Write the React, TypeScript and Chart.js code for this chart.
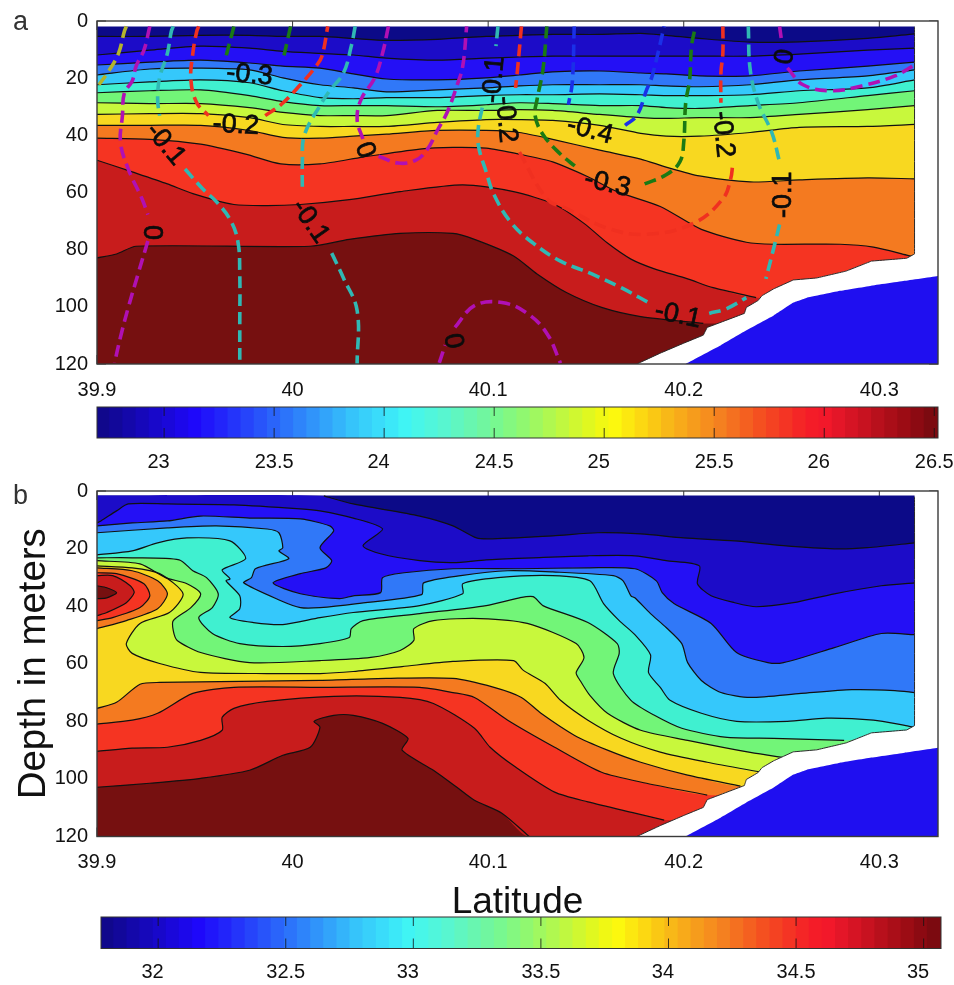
import React, { useEffect, useRef } from "react";
import { Chart, registerables } from "chart.js";

Chart.register(...registerables);

// ---------- axes ----------
const latTicks = [39.9, 40, 40.1, 40.2, 40.3];
const tempBarTicks = [23, 23.5, 24, 24.5, 25, 25.5, 26, 26.5];
const saltBarTicks = [32, 32.5, 33, 33.5, 34, 34.5, 35];

// ---------- band colours, shallow to deep ----------
const bandColors = ["#0c0a88", "#1c0cc8", "#2410f5", "#3078f8", "#35c8fb", "#40f0d0", "#72f578", "#c8f83c", "#f8d820", "#f47a20", "#f53422", "#c81c1c", "#761010"];
const bathyColor = "#1f0ff0";

// ---------- coast (shared by both panels) ----------
const coastLat = [40.318, 40.318, 40.314, 40.296, 40.283, 40.268, 40.256, 40.246, 40.24, 40.238, 40.232, 40.231, 40.212, 40.21, 40.2, 40.188, 40.176];
const coastDepth = [2, 81.5, 83, 84, 87.5, 89.9, 90.6, 93.7, 96.1, 97.8, 100.2, 102.3, 107.2, 109.9, 112.7, 116.2, 120];
const bathyLat = [40.33, 40.313, 40.296, 40.28, 40.263, 40.256, 40.246, 40.232, 40.219, 40.202, 40.201, 40.33];
const bathyDepth = [89.2, 90.9, 92.6, 94.4, 96.8, 98.5, 103, 108.2, 113.4, 119.6, 120, 120];

// ---------- panel a: temperature contours ----------
const tempLat = [39.9, 39.927, 39.953, 39.978, 39.995, 40.014, 40.031, 40.048, 40.074, 40.099, 40.116, 40.133, 40.157, 40.178, 40.191, 40.208, 40.234, 40.259, 40.294, 40.318];
const tempL1 = [5.4, 5.4, 5.0, 5.0, 5.4, 5.4, 6.1, 6.8, 6.4, 5.4, 5.0, 4.7, 4.7, 4.3, 5.0, 6.1, 7.4, 7.3, 6.1, 4.5];
const tempL2 = [11.9, 10.2, 8.8, 9.5, 10.6, 11.3, 11.9, 13, 13.7, 13, 12.6, 12.3, 12.3, 12.3, 12.3, 12.3, 12.3, 11.6, 10.2, 9.5];
const tempL3 = [15.4, 14.4, 13.7, 14.7, 15.8, 16.5, 18.5, 20.3, 20.6, 19.9, 18.9, 17.8, 17.5, 18.2, 18.5, 19.2, 19.2, 17.5, 15.8, 14.4];
const tempL4 = [18.9, 16.8, 16.5, 17.1, 19.9, 22.3, 23.4, 24.8, 24.1, 23.4, 22.7, 22.3, 22.3, 22.3, 22.7, 23, 22.3, 20.6, 19.2, 17.1];
const tempL5 = [22.3, 21.3, 20.6, 21.6, 24.4, 26.8, 27.2, 26.8, 26.8, 26.1, 25.8, 25.8, 25.5, 25.8, 26.1, 26.1, 25.8, 24.4, 23.4, 20.6];
const tempL6 = [25.1, 24.4, 24.1, 26.1, 28.2, 29.6, 29.6, 29.6, 30, 29.3, 28.6, 28.9, 29.6, 29.6, 30.3, 30.6, 29.6, 28.6, 26.1, 24.4];
const tempL7 = [28.6, 28.9, 28.9, 30.3, 32, 33.1, 33.1, 33.1, 31.3, 31.3, 31, 31.3, 32.7, 33.8, 34.1, 33.8, 33.8, 32.7, 31, 29.6];
const tempL8 = [32.7, 32.4, 32.4, 33.8, 36.2, 36.9, 36.9, 36.9, 35.5, 34.5, 34.5, 34.8, 36.5, 39.3, 40.3, 40.3, 39, 37.2, 36.9, 36.2];
const tempL9 = [36.5, 36.5, 36.5, 38.3, 40.7, 41, 40.3, 39.6, 38.3, 38.3, 39, 41.4, 45.2, 48.3, 51.1, 54.2, 56.3, 55.6, 54.9, 55.2];
const tempL10Lat = [39.9, 39.927, 39.953, 39.976, 39.994, 40.014, 40.036, 40.065, 40.082, 40.099, 40.116, 40.133, 40.151, 40.166, 40.188, 40.209, 40.232, 40.246, 40.28, 40.297, 40.314, 40.318];
const tempL10 = [41, 41.4, 43.1, 46.6, 50, 50, 47.6, 44.8, 44.2, 44.5, 46.6, 49.3, 54.5, 59.7, 64.9, 72.9, 77.4, 78.1, 78.1, 79.1, 81.9, 82.6];
const tempL11Lat = [39.9, 39.918, 39.936, 39.949, 39.97, 39.987, 40.004, 40.029, 40.055, 40.087, 40.113, 40.134, 40.149, 40.161, 40.173, 40.185, 40.202, 40.215, 40.237];
const tempL11 = [48.7, 52.8, 57, 60.4, 64.2, 64.6, 64.2, 62.5, 59.7, 57.3, 59.7, 64.2, 70.8, 77.7, 83.3, 86.7, 90.2, 93.3, 96.8];
const tempL12Lat = [39.9, 39.91, 39.92, 40.009, 40.029, 40.055, 40.082, 40.093, 40.113, 40.125, 40.14, 40.158, 40.178, 40.21];
const tempL12 = [82.9, 81.5, 78.8, 78.8, 76.4, 74.3, 74.3, 76.4, 82.2, 88.5, 95, 100.2, 103.4, 105.8];

// ---------- panel a: dashed velocity contours ----------
const oliveLine = [[39.915, 1.9], [39.914, 3.6], [39.911, 11.3], [39.906, 17.5], [39.901, 22.3]];
const zeroA1 = [[39.927, 1.9], [39.924, 10.2], [39.92, 15.8], [39.918, 21], [39.914, 25.1], [39.913, 33.1], [39.912, 42.4], [39.916, 51.8], [39.923, 62.2], [39.926, 67.7]];
const zeroA2 = [[39.926, 77], [39.921, 88.5], [39.916, 100.2], [39.912, 110.6], [39.909, 119.6]];
const zeroB1 = [[40.049, 1.9], [40.046, 11.3], [40.042, 19.9], [40.035, 27.5], [40.033, 34.5], [40.036, 41.4]];
const zeroB2 = [[40.044, 47.3], [40.054, 49.7], [40.063, 48.7], [40.069, 44.8], [40.074, 38.3], [40.079, 32], [40.084, 22.7], [40.087, 15.8], [40.089, 1.9]];
const zeroC1 = [[40.249, 1.9], [40.25, 6.8]];
const zeroC2 = [[40.253, 16.4], [40.261, 22.3], [40.275, 24.4], [40.291, 22.7], [40.308, 19.2], [40.318, 15.4]];
const zeroD1 = [[40.075, 119.6], [40.078, 113.4]];
const zeroD2 = [[40.083, 107.2], [40.093, 99.6], [40.107, 98.5], [40.12, 102.3], [40.13, 109.3], [40.137, 119.7]];
const tenthA1 = [[39.939, 1.9], [39.938, 3.6], [39.936, 11.3], [39.932, 19.9], [39.931, 27.5], [39.932, 33.1]];
const tenthA2 = [[39.945, 51.8], [39.954, 58.7], [39.961, 63.2], [39.968, 69.4], [39.972, 77], [39.973, 88.5], [39.973, 105.8], [39.973, 120]];
const tenthB1 = [[40.032, 1.9], [40.03, 8.8], [40.026, 18.2], [40.019, 24.4], [40.014, 29.6], [40.006, 40], [40.005, 49.3], [40.005, 59.7]];
const tenthB2 = [[40.02, 81.2], [40.026, 89.9], [40.033, 101.3], [40.033, 120]];
const tenthC1 = [[40.105, 1.9], [40.104, 8.8]];
const tenthC2 = [[40.097, 30.3], [40.095, 37.2], [40.095, 43.5], [40.099, 52.8], [40.103, 60.8], [40.112, 70.8], [40.123, 77.7], [40.137, 84], [40.153, 88.5], [40.168, 93.3], [40.182, 98.5]];
const tenthC3 = [[40.213, 102.3], [40.222, 100.6], [40.232, 96.8]];
const tenthD1 = [[40.233, 1.9], [40.234, 17.1], [40.238, 28.6], [40.245, 39], [40.249, 49.3]];
const tenthD2 = [[40.249, 71.2], [40.246, 79.5], [40.242, 90.2]];
const fifthA1 = [[39.952, 1.9], [39.951, 3.6], [39.949, 11.3], [39.948, 20.6], [39.951, 28.6], [39.957, 33.1]];
const fifthA2 = [[39.986, 33.1], [39.994, 29.3], [40.004, 22.3], [40.012, 15.8], [40.015, 12.3], [40.018, 1.9]];
const fifthB1 = [[40.117, 1.9], [40.115, 17.1], [40.114, 23.4]];
const fifthB2 = [[40.116, 45.9], [40.13, 62.2], [40.14, 65.6], [40.161, 72.5], [40.181, 74.6], [40.205, 70.8], [40.22, 62.2], [40.224, 55.2], [40.225, 50.4]];
const fifthB3 = [[40.22, 1.9], [40.22, 11.3], [40.219, 18.2], [40.219, 28.6]];
const thirdA = [[39.97, 1.9], [39.966, 12.3]];
const thirdB = [[39.999, 1.9], [39.995, 14]];
const thirdC1 = [[40.13, 1.9], [40.128, 17.1], [40.125, 27.5], [40.124, 33.1], [40.128, 39.7], [40.137, 46.6], [40.145, 51.1]];
const thirdC2 = [[40.18, 57], [40.191, 53.8], [40.198, 49.3], [40.2, 42.4], [40.201, 28.6], [40.203, 20.6], [40.204, 8.8], [40.206, 1.9]];
const fourthA = [[40.144, 1.9], [40.143, 21.6], [40.141, 29.3]];
const fourthB = [[40.17, 36.5], [40.176, 33.1], [40.181, 24.1], [40.184, 18.9], [40.19, 1.9]];

const dashColors = { olive: "#b4b42c", zero: "#b010b4", tenth: "#30b8b4", fifth: "#f03020", third: "#1a7a14", fourth: "#1a30e8" };

// label text, latitude, depth, rotation in degrees
const contourLabels: [string, number, number, number][] = [
  ["-0.3", 39.978, 18.9, 5],
  ["-0.2", 39.971, 36.5, 3],
  ["-0.1", 39.935, 43.1, 50],
  ["0", 39.928, 74, 90],
  ["-0.1", 40.009, 70.1, 55],
  ["0", 40.037, 45.2, 70],
  ["0", 40.082, 112, 80],
  ["-0.1", 40.103, 20.6, -85],
  ["-0.2", 40.109, 34.5, 85],
  ["-0.4", 40.152, 38.3, 15],
  ["-0.3", 40.161, 57, 13],
  ["-0.2", 40.22, 39.7, 85],
  ["0", 40.25, 12.3, 100],
  ["-0.1", 40.251, 60.8, -90],
  ["-0.1", 40.197, 103, 12],
];

// ---------- panel b: salinity contours ----------
const saltS1Lat = [40.016, 40.031, 40.065, 40.082, 40.094, 40.102, 40.133, 40.156, 40.178, 40.2, 40.226, 40.251, 40.277, 40.294, 40.318];
const saltS1 = [1.7, 4.5, 8.7, 12.1, 16.3, 16.6, 15.6, 14.5, 14.9, 16.3, 17.3, 19, 20.1, 19.7, 18];
const saltS2Lat = [39.9, 39.902, 39.91, 39.916, 39.936, 39.97, 40.004, 40.014, 40.031, 40.046, 40.036, 40.045, 40.065, 40.082, 40.099, 40.123, 40.151, 40.175, 40.191, 40.208, 40.207, 40.214, 40.226, 40.237, 40.256, 40.277, 40.301, 40.318];
const saltS2 = [11.1, 10.4, 6.9, 4.5, 4.5, 4.8, 6.2, 6.9, 9.4, 13.2, 19, 21.8, 24.2, 24.9, 23.9, 23.2, 22.5, 22.5, 24.2, 26, 32.2, 36.4, 38.8, 40.2, 38.8, 35.7, 32.9, 31.9];
const saltS3Lat = [39.9, 39.918, 39.936, 39.953, 39.978, 40.004, 40.019, 40.021, 40.014, 40.02, 40.017, 40.004, 39.99, 40.004, 40.024, 40.031, 40.045, 40.046, 40.057, 40.082, 40.116, 40.151, 40.175, 40.186, 40.189, 40.195, 40.214, 40.227, 40.243, 40.251, 40.277, 40.301, 40.318];
const saltS3 = [12.1, 11.1, 10.4, 8.7, 9.4, 9.7, 12.1, 13.9, 19.7, 24.2, 26.7, 28.7, 31.9, 35.7, 37.4, 36.4, 35.3, 30.1, 28.4, 27, 27, 26.7, 27, 31.2, 35.3, 39.1, 46, 56.1, 59.6, 59.6, 54.4, 49.5, 49.9];
const saltS4Lat = [39.9, 39.936, 39.961, 39.987, 39.993, 39.995, 39.993, 39.998, 39.981, 39.979, 39.975, 39.994, 40.004, 40.014, 40.033, 40.066, 40.067, 40.086, 40.11, 40.133, 40.164, 40.169, 40.173, 40.175, 40.183, 40.191, 40.199, 40.202, 40.209, 40.219, 40.234, 40.26, 40.286, 40.308, 40.318];
const saltS4 = [14.5, 12.8, 12.1, 13.2, 14.5, 19.7, 20.8, 23.5, 27, 30.1, 31.9, 38.1, 40.5, 40.5, 39.1, 36, 31.9, 29.4, 27.7, 28.1, 29.4, 31.2, 36.4, 37.1, 42.6, 47.4, 53, 59.6, 65.8, 70, 71.7, 70.3, 69, 69.3, 70];
const saltS5Lat = [39.9, 39.918, 39.931, 39.946, 39.968, 39.976, 39.964, 39.968, 39.966, 39.973, 39.973, 39.968, 39.98, 39.995, 40.014, 40.031, 40.065, 40.087, 40.087, 40.105, 40.133, 40.152, 40.159, 40.167, 40.175, 40.183, 40.182, 40.188, 40.193, 40.209, 40.227, 40.253, 40.273, 40.297, 40.313, 40.318];
const saltS5 = [22.2, 20.8, 18, 16.3, 17.3, 23.5, 27.4, 30.5, 31.2, 36.4, 40.9, 44, 45.7, 46.4, 44, 42.2, 39.8, 35.7, 32.2, 30.1, 29.4, 31.2, 39.1, 45, 49.9, 56.9, 63.1, 68.2, 72.7, 77.2, 80, 80, 78.9, 79.6, 81.4, 82.1];
const saltS6Lat = [39.9, 39.918, 39.942, 39.949, 39.956, 39.962, 39.959, 39.952, 39.959, 39.973, 39.995, 40.014, 40.029, 40.03, 40.036, 40.065, 40.099, 40.116, 40.123, 40.128, 40.151, 40.166, 40.167, 40.164, 40.173, 40.185, 40.199, 40.221, 40.246, 40.282];
const saltS6 = [23.2, 23.2, 23.9, 27.7, 30.1, 35.7, 40.5, 44, 49.5, 53, 54, 53, 50.9, 47.8, 45, 42.6, 39.8, 37.1, 36.7, 39.8, 45.7, 53, 56.4, 63.4, 72.7, 77.9, 82.4, 85.5, 85.9, 86.6];
const saltS7Lat = [39.9, 39.922, 39.935, 39.946, 39.953, 39.948, 39.939, 39.939, 39.941, 39.953, 39.978, 40.014, 40.04, 40.055, 40.062, 40.062, 40.072, 40.096, 40.12, 40.145, 40.149, 40.145, 40.147, 40.152, 40.161, 40.178, 40.202, 40.234, 40.253];
const saltS7 = [24.2, 25.3, 30.1, 32.2, 35.7, 40.5, 45, 48.5, 51.9, 56.1, 59.6, 58.9, 57.8, 55.4, 51.9, 47.8, 45, 44.3, 46, 53, 57.8, 63.1, 65.8, 71, 77.2, 83.1, 86.6, 90.8, 92.8];
const saltS8Lat = [39.9, 39.918, 39.932, 39.944, 39.937, 39.922, 39.915, 39.918, 39.932, 39.953, 39.987, 40.014, 40.031, 40.056, 40.082, 40.113, 40.118, 40.129, 40.137, 40.151, 40.168, 40.188, 40.212, 40.24];
const saltS8 = [26, 26.7, 28.7, 35.7, 42.2, 46, 53, 56.4, 59.9, 63, 63.4, 63.4, 62.7, 61, 59.2, 58.9, 62.3, 66.8, 72.7, 79.6, 85.9, 90.7, 94.2, 97.7];
const saltS9Lat = [39.9, 39.91, 39.922, 39.932, 40.014, 40.048, 40.082, 40.103, 40.117, 40.127, 40.144, 40.161, 40.178, 40.202, 40.229];
const saltS9 = [75.5, 73.4, 67.1, 66.5, 65.8, 65.1, 65.1, 68.2, 71.7, 77.2, 84.8, 90, 94.2, 98.7, 102.5];
const saltS10Lat = [39.9, 39.918, 39.931, 39.949, 39.97, 40.014, 40.065, 40.082, 40.093, 40.11, 40.134, 40.158, 40.181, 40.212];
const saltS10 = [81, 79.6, 77.2, 70.3, 68.2, 68.2, 68.2, 70, 71.7, 79.6, 89, 97.7, 101.5, 105.6];
const saltS11Lat = [39.9, 39.918, 39.936, 39.953, 39.964, 39.964, 39.97, 39.987, 40.021, 40.055, 40.072, 40.093, 40.101, 40.114, 40.134, 40.151, 40.175, 40.19];
const saltS11 = [90.4, 89.3, 89, 86.6, 83.1, 78.6, 75.5, 73.1, 71.3, 71.7, 73.8, 82.4, 89, 95.9, 104.6, 108, 111.9, 114.3];
const saltS12Lat = [39.9, 39.927, 39.953, 39.978, 39.995, 40.009, 40.014, 40.011, 40.021, 40.031, 40.046, 40.059, 40.056, 40.072, 40.084, 40.093, 40.107, 40.121];
const saltS12 = [102.9, 101.5, 99.8, 97, 91.8, 89, 82.1, 80, 77.9, 77.9, 80.7, 85.9, 90, 97, 102.9, 107.4, 111.9, 120];
// the high-salinity tongue at the left edge
const tongue9Lat = [39.9, 39.918, 39.931, 39.936, 39.931, 39.915, 39.9];
const tongue9 = [26.7, 27.7, 31.2, 35.7, 40.9, 45, 47.8];
const tongue10Lat = [39.9, 39.91, 39.924, 39.927, 39.922, 39.908, 39.9];
const tongue10 = [28.4, 28.7, 32.2, 36.4, 40.5, 44, 45];
const tongue11Lat = [39.9, 39.908, 39.917, 39.919, 39.915, 39.905, 39.9];
const tongue11 = [29.4, 29.4, 32.9, 35.3, 38.8, 42.2, 43.3];
const tongue12Lat = [39.9, 39.905, 39.91, 39.905, 39.9];
const tongue12 = [32.9, 33.6, 35.3, 37.1, 37.4];

// ---------- colour bars ----------
const tempBarLevels = [22.725, 22.784, 22.844, 22.904, 22.964, 23.023, 23.083, 23.143, 23.202, 23.262, 23.322, 23.381, 23.441, 23.501, 23.561, 23.62, 23.68, 23.74, 23.799, 23.859, 23.919, 23.978, 24.038, 24.098, 24.158, 24.217, 24.277, 24.337, 24.396, 24.456, 24.516, 24.575, 24.635, 24.695, 24.755, 24.814, 24.874, 24.934, 24.993, 25.053, 25.113, 25.172, 25.232, 25.292, 25.352, 25.411, 25.471, 25.531, 25.59, 25.65, 25.71, 25.769, 25.829, 25.889, 25.949, 26.008, 26.068, 26.128, 26.187, 26.247, 26.307, 26.366, 26.426, 26.486];
const saltBarLevels = [31.802, 31.853, 31.905, 31.956, 32.008, 32.059, 32.11, 32.162, 32.213, 32.265, 32.316, 32.368, 32.419, 32.47, 32.522, 32.573, 32.625, 32.676, 32.728, 32.779, 32.83, 32.882, 32.933, 32.985, 33.036, 33.088, 33.139, 33.19, 33.242, 33.293, 33.345, 33.396, 33.448, 33.499, 33.55, 33.602, 33.653, 33.705, 33.756, 33.808, 33.859, 33.91, 33.962, 34.013, 34.065, 34.116, 34.168, 34.219, 34.27, 34.322, 34.373, 34.425, 34.476, 34.528, 34.579, 34.63, 34.682, 34.733, 34.785, 34.836, 34.888, 34.939, 34.991, 35.042];
const jetCells = ["#10088c", "#12089a", "#1408aa", "#1608ba", "#1808ca", "#1a08da", "#1c08ea", "#1e08fa", "#2016fa", "#2224fa", "#2434fa", "#2644fa", "#2854fa", "#2a64fa", "#2c74fa", "#2e84fa", "#3094fa", "#32a4fa", "#34b4fa", "#36c4fa", "#38d0fa", "#3adcfa", "#3ce8f8", "#40f4f4", "#48f6e8", "#50f6dc", "#58f6d0", "#60f6c0", "#68f6b0", "#70f6a0", "#78f890", "#84f880", "#90f870", "#a0f860", "#b0f850", "#c0f840", "#d0f830", "#e0f820", "#f0f814", "#fcf80e", "#fce810", "#fcd812", "#fac814", "#f8b818", "#f8aa1a", "#f69c1c", "#f68e1e", "#f48020", "#f47020", "#f46020", "#f45020", "#f44222", "#f43424", "#f42626", "#f41c28", "#f2182a", "#e41628", "#d61424", "#c81220", "#b8101c", "#aa0e18", "#9c0c14", "#8c0a12", "#7c0a10"];

// ---------- helpers ----------
const FONT = "'Liberation Sans', Arial, sans-serif";
const INK = "#111";
const LAT_MIN = 39.9;
const LAT_MAX = 40.33;
const CONTOUR_TENSION = 0.25;

type P = { x: number; y: number };
const zip = (lats: number[], deps: number[]): P[] => lats.map((x, i) => ({ x, y: deps[i] }));
const pairs = (list: number[][]): P[] => list.map(([x, y]) => ({ x, y }));

const shape = (data: P[], color: string, tension = 0.001) => ({ data, showLine: true, fill: "shape", backgroundColor: color, borderWidth: 0, pointRadius: 0, tension });
const stroke = (data: P[], color: string, width: number, dash: number[] = [], tension = 0.001) => ({ data, showLine: true, fill: false, borderColor: color, borderWidth: width, borderDash: dash, pointRadius: 0, tension });
// region below a contour that runs from the left edge towards the coast
const below = (line: P[]): P[] => [...line, { x: LAT_MAX, y: line[line.length - 1].y }, { x: LAT_MAX, y: 120 }, { x: LAT_MIN, y: 120 }];

function orderDatasets(list: any[]) {
  return list.map((d, i) => ({ ...d, order: list.length - i }));
}

function maskLayers() {
  const coast = zip(coastLat, coastDepth);
  return [
    shape([{ x: 40.318, y: 0 }, ...coast, { x: LAT_MAX, y: 120 }, { x: LAT_MAX, y: 0 }], "#ffffff"),
    stroke(coast, "#2a2a2a", 1),
    shape(zip(bathyLat, bathyDepth), bathyColor),
  ];
}

function tempDatasets() {
  const lines = [tempL1, tempL2, tempL3, tempL4, tempL5, tempL6, tempL7, tempL8, tempL9].map((d) => zip(tempLat, d));
  lines.push(zip(tempL10Lat, tempL10), zip(tempL11Lat, tempL11), zip(tempL12Lat, tempL12));
  const list: any[] = [shape([{ x: LAT_MIN, y: 2 }, { x: LAT_MAX, y: 2 }, { x: LAT_MAX, y: 120 }, { x: LAT_MIN, y: 120 }], bandColors[0])];
  lines.forEach((l, i) => list.push(shape(below(l), bandColors[i + 1], CONTOUR_TENSION)));
  lines.forEach((l) => list.push(stroke(l, "#111", 1.2, [], CONTOUR_TENSION)));
  list.push(...maskLayers());
  const dash = [12, 6];
  const groups: [number[][][], string][] = [
    [[oliveLine], dashColors.olive],
    [[zeroA1, zeroA2, zeroB1, zeroB2, zeroC1, zeroC2, zeroD1, zeroD2], dashColors.zero],
    [[tenthA1, tenthA2, tenthB1, tenthB2, tenthC1, tenthC2, tenthC3, tenthD1, tenthD2], dashColors.tenth],
    [[fifthA1, fifthA2, fifthB1, fifthB2, fifthB3], dashColors.fifth],
    [[thirdA, thirdB, thirdC1, thirdC2], dashColors.third],
    [[fourthA, fourthB], dashColors.fourth],
  ];
  groups.forEach(([segs, color]) => segs.forEach((s) => list.push(stroke(pairs(s), color, 3.6, dash, 0.4))));
  return orderDatasets(list);
}

function saltDatasets() {
  const s1 = zip(saltS1Lat, saltS1);
  const main = [
    s1,
    zip(saltS2Lat, saltS2),
    zip(saltS3Lat, saltS3),
    zip(saltS4Lat, saltS4),
    zip(saltS5Lat, saltS5),
    zip(saltS6Lat, saltS6),
    zip(saltS7Lat, saltS7),
    zip(saltS8Lat, saltS8),
  ];
  const T = CONTOUR_TENSION;
  const list: any[] = [shape([{ x: LAT_MIN, y: 1.6 }, { x: LAT_MAX, y: 1.6 }, { x: LAT_MAX, y: 120 }, { x: LAT_MIN, y: 120 }], bandColors[0])];
  list.push(shape(below([{ x: LAT_MIN, y: 1.6 }, ...s1]), bandColors[1], T));
  main.slice(1).forEach((l, i) => list.push(shape(below(l), bandColors[i + 2], T)));
  const tongues: [number[], number[], number][] = [
    [tongue9Lat, tongue9, 9],
    [tongue10Lat, tongue10, 10],
    [tongue11Lat, tongue11, 11],
    [tongue12Lat, tongue12, 12],
  ];
  const lower: [number[], number[], number][] = [
    [saltS9Lat, saltS9, 9],
    [saltS10Lat, saltS10, 10],
    [saltS11Lat, saltS11, 11],
    [saltS12Lat, saltS12, 12],
  ];
  tongues.forEach(([a, b, k]) => list.push(shape(zip(a, b), bandColors[k], T)));
  lower.forEach(([a, b, k]) => list.push(shape(below(zip(a, b)), bandColors[k], T)));
  main.forEach((l) => list.push(stroke(l, "#111", 1.2, [], T)));
  [...tongues, ...lower].forEach(([a, b]) => list.push(stroke(zip(a, b), "#111", 1.2, [], T)));
  list.push(...maskLayers());
  return orderDatasets(list);
}

function panelPlugin(labels: [string, number, number, number][]) {
  return {
    id: "panelFrame",
    beforeDatasetsDraw(chart: any) {
      const { ctx, chartArea: a, scales } = chart;
      ctx.save();
      ctx.strokeStyle = "#333";
      ctx.lineWidth = 1;
      ctx.beginPath();
      latTicks.forEach((v) => {
        const px = scales.x.getPixelForValue(v);
        ctx.moveTo(px, a.top);
        ctx.lineTo(px, a.top + 9);
        ctx.moveTo(px, a.bottom);
        ctx.lineTo(px, a.bottom - 9);
      });
      scales.y.ticks.forEach((t: any) => {
        const py = scales.y.getPixelForValue(t.value);
        ctx.moveTo(a.left, py);
        ctx.lineTo(a.left + 9, py);
        ctx.moveTo(a.right, py);
        ctx.lineTo(a.right - 9, py);
      });
      ctx.stroke();
      ctx.restore();
    },
    afterDatasetsDraw(chart: any) {
      const { ctx, chartArea: a, scales } = chart;
      ctx.save();
      ctx.fillStyle = "#0c0c0c";
      ctx.strokeStyle = "#0c0c0c";
      ctx.lineWidth = 0.7;
      ctx.font = `27px ${FONT}`;
      ctx.textAlign = "center";
      ctx.textBaseline = "middle";
      labels.forEach(([text, lat, depth, rot]) => {
        ctx.save();
        ctx.translate(scales.x.getPixelForValue(lat), scales.y.getPixelForValue(depth));
        ctx.rotate((rot * Math.PI) / 180);
        ctx.fillText(text, 0, 0);
        ctx.strokeText(text, 0, 0);
        ctx.restore();
      });
      ctx.strokeStyle = "#3a3a3a";
      ctx.lineWidth = 1.4;
      ctx.strokeRect(a.left, a.top, a.width, a.height);
      ctx.restore();
    },
  };
}

const barPlugin = {
  id: "barFrame",
  afterDatasetsDraw(chart: any) {
    const { ctx, chartArea: a, scales } = chart;
    ctx.save();
    ctx.strokeStyle = "rgba(20,20,20,0.8)";
    ctx.lineWidth = 1;
    ctx.beginPath();
    scales.x.ticks.forEach((t: any) => {
      const px = scales.x.getPixelForValue(t.value);
      ctx.moveTo(px, a.top);
      ctx.lineTo(px, a.top + 9);
      ctx.moveTo(px, a.bottom);
      ctx.lineTo(px, a.bottom - 10);
    });
    ctx.stroke();
    ctx.strokeStyle = "#333";
    ctx.strokeRect(a.left, a.top, a.width, a.height);
    ctx.restore();
  },
};

const tickFont = { family: FONT, size: 20 };

function panelConfig(datasets: any[], labels: any[], opts: { top: number; axisHeight: number; yTitle?: string; xTitle?: string }) {
  return {
    type: "scatter",
    data: { datasets },
    plugins: [panelPlugin(labels)],
    options: {
      animation: false,
      responsive: false,
      layout: { padding: { top: opts.top, right: 16, left: 0, bottom: 0 } },
      plugins: { legend: { display: false }, tooltip: { enabled: false } },
      events: [],
      scales: {
        x: {
          type: "linear",
          min: LAT_MIN,
          max: LAT_MAX,
          grid: { display: false, drawTicks: false },
          border: { display: false },
          afterBuildTicks: (s: any) => {
            s.ticks = latTicks.map((value) => ({ value }));
          },
          afterFit: (s: any) => {
            s.height = opts.axisHeight;
          },
          ticks: { autoSkip: false, maxRotation: 0, minRotation: 0, padding: 14, color: INK, font: tickFont, callback: (v: number) => String(v) },
          title: opts.xTitle ? { display: true, text: opts.xTitle, color: "#111", font: { family: FONT, size: 37 }, padding: { top: 0, bottom: 0 } } : { display: false },
        },
        y: {
          type: "linear",
          reverse: true,
          min: 0,
          max: 120,
          grid: { display: false, drawTicks: false },
          border: { display: false },
          afterFit: (s: any) => {
            s.width = 97;
          },
          ticks: { stepSize: 20, padding: 9, color: INK, font: tickFont },
          title: opts.yTitle ? { display: true, text: opts.yTitle, color: "#111", font: { family: FONT, size: 38.4 }, padding: { top: 11, bottom: 0 } } : { display: false },
        },
      },
    },
  };
}

function barConfig(levels: number[], ticks: number[], o: { min: number; max: number; left: number; right: number; top: number; axisHeight: number }) {
  return {
    type: "bar",
    data: {
      datasets: [
        {
          data: levels.map((x) => ({ x, y: 1 })),
          backgroundColor: jetCells,
          borderWidth: 0,
          barThickness: 14.2,
        },
      ],
    },
    plugins: [barPlugin],
    options: {
      animation: false,
      responsive: false,
      events: [],
      layout: { padding: { top: o.top, left: o.left, right: o.right, bottom: 0 } },
      plugins: { legend: { display: false }, tooltip: { enabled: false } },
      scales: {
        x: {
          type: "linear",
          offset: false,
          min: o.min,
          max: o.max,
          grid: { display: false, drawTicks: false, offset: false },
          border: { display: false },
          afterBuildTicks: (s: any) => {
            s.ticks = ticks.map((value) => ({ value }));
          },
          afterFit: (s: any) => {
            s.height = o.axisHeight;
            // the last label reaches the page edge; the plot must keep its width
            s.paddingLeft = 0;
            s.paddingRight = 0;
          },
          ticks: {
            autoSkip: false,
            maxRotation: 0,
            minRotation: 0,
            padding: 12,
            color: INK,
            font: tickFont,
            // whole-number labels sit a little left of their tick, as in the figure
            callback: (v: number) => (Number.isInteger(v) ? `${v}  ` : String(v)),
          },
        },
        y: { display: false, min: 0, max: 1 },
      },
    },
  };
}

function Plot({ top, height, config }: { top: number; height: number; config: () => any }) {
  const ref = useRef<HTMLCanvasElement>(null);
  useEffect(() => {
    const chart = new Chart(ref.current as HTMLCanvasElement, config());
    return () => chart.destroy();
  }, []);
  return <canvas ref={ref} width={954} height={height} style={{ position: "absolute", left: 0, top, width: 954, height, filter: "blur(0.4px)" }} />;
}

const letterStyle = (top: number): React.CSSProperties => ({
  position: "absolute",
  left: 13,
  top,
  font: `27px ${FONT}`,
  lineHeight: "27px",
  color: "#333",
});

export default function App() {
  return (
    <div style={{ position: "absolute", left: 0, top: 0, width: 954, height: 985, background: "#fff", overflow: "hidden" }}>
      <Plot top={0} height={400} config={() => panelConfig(tempDatasets(), contourLabels, { top: 17.5, axisHeight: 36 })} />
      <Plot top={400} height={85} config={() => barConfig(tempBarLevels, tempBarTicks, { min: 22.695, max: 26.517, left: 97, right: 16, top: 7, axisHeight: 47 })} />
      <Plot top={470} height={455} config={() => panelConfig(saltDatasets(), [], { top: 20, axisHeight: 88.5, yTitle: "Depth in meters", xTitle: "Latitude" })} />
      <Plot top={912} height={73} config={() => barConfig(saltBarLevels, saltBarTicks, { min: 31.776, max: 35.068, left: 101, right: 13, top: 5, axisHeight: 36.5 })} />
      <div style={letterStyle(8)}>a</div>
      <div style={letterStyle(482)}>b</div>
    </div>
  );
}
